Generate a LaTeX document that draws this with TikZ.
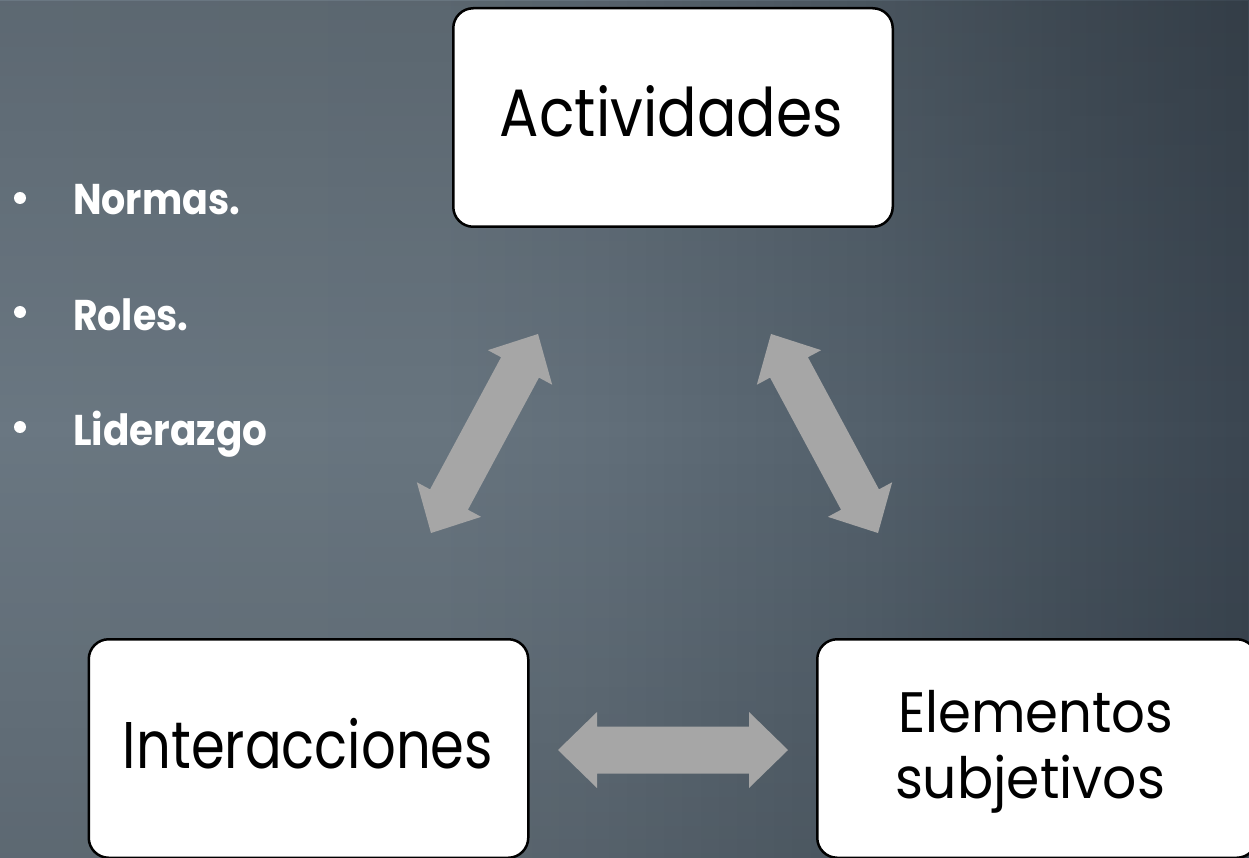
\documentclass[tikz,border=0pt]{standalone}
\usepackage{fontspec}
\setmainfont{Poppins}
\usetikzlibrary{fadings}
\definecolor{bgA}{HTML}{6A7782}
\definecolor{bgB}{HTML}{68757F}
\definecolor{bgC}{HTML}{626F7A}
\definecolor{bgD}{HTML}{53606B}
\definecolor{bgE}{HTML}{46525D}
\definecolor{bgF}{HTML}{3B4651}
\definecolor{arrowgray}{HTML}{A6A6A6}
\pgfdeclarehorizontalshading{bgshade}{100bp}{color(0bp)=(bgA); color(25bp)=(bgA); color(42.5bp)=(bgB); color(49bp)=(bgC); color(60bp)=(bgD); color(67.5bp)=(bgE); color(75bp)=(bgF); color(100bp)=(bgF)}
\tikzfading[name=vvignette, top color=transparent!0, bottom color=transparent!0, middle color=transparent!100]
% double block arrow: #1 centre coordinate, #2 angle, #3 length, #4 head length, #5 head half width, #6 shaft half width
\newcommand{\blockarrow}[6]{%
  \fill[arrowgray, shift={(#1)}, rotate=#2]
    (-#3/2,0) -- (-#3/2+#4,#5) -- (-#3/2+#4,#6) -- (#3/2-#4,#6) -- (#3/2-#4,#5) -- (#3/2,0)
    -- (#3/2-#4,-#5) -- (#3/2-#4,-#6) -- (-#3/2+#4,-#6) -- (-#3/2+#4,-#5) -- cycle;}
\begin{document}
\begin{tikzpicture}[x=1pt,y=-1pt,
  box/.style={draw=black, line width=2.5pt, fill=white, rounded corners=20pt,
    minimum width=439.5pt, minimum height=218.5pt, inner sep=0pt},
  boxtext/.style={inner sep=0pt, anchor=base, text=black},
  itemtext/.style={inner sep=0pt, anchor=base west, text=white},
  bulletdot/.style={circle, fill=white, minimum size=12pt, inner sep=0pt}]
\useasboundingbox (0,0) rectangle (1249,858);
\clip (0,0) rectangle (1249,858);
% background
\shade[shading=bgshade] (0,0) rectangle (1249,858);
\fill[black, fill opacity=0.12, path fading=vvignette, fit fading=true] (0,0) rectangle (1249,858);

% boxes
\node[box] (act) at (673,117.5) {};
\node[box] (inter) at (308.5,748.5) {};
\node[box] (elem) at (1037,748.5) {};

% box texts
\node[boxtext] (actT) at (671.5,137) {\resizebox{343pt}{\height}{\fontsize{67}{80}\selectfont Actividades}};
\node[boxtext] (interT) at (308,768) {\resizebox{370pt}{\height}{\fontsize{66}{80}\selectfont Interacciones}};
\node[boxtext] (elemT) at (1035.5,732) {\resizebox{275pt}{\height}{\fontsize{57}{66}\selectfont Elementos}};
\node[boxtext] (elemTb) at (1030,798) {\resizebox{270pt}{\height}{\fontsize{57}{66}\selectfont subjetivos}};

% bullet list
\node[bulletdot] (b1) at (20,198) {};
\node[bulletdot] (b2) at (20,312) {};
\node[bulletdot] (b3) at (20,427) {};
\node[itemtext] (t1) at (73,215) {\resizebox{167pt}{\height}{\bfseries\fontsize{43}{50}\selectfont Normas.}};
\node[itemtext] (t2) at (73,330) {\resizebox{115pt}{\height}{\bfseries\fontsize{43}{50}\selectfont Roles.}};
\node[itemtext] (t3) at (73,445) {\resizebox{194pt}{\height}{\bfseries\fontsize{43}{50}\selectfont Liderazgo}};

% block arrows
\coordinate (arrAI) at (484.5,433.5);
\coordinate (arrAE) at (824.5,433.5);
\coordinate (arrIE) at (673,750);
\blockarrow{arrAI}{61.73}{226}{38}{36.5}{21.5}
\blockarrow{arrAE}{118.27}{226}{38}{36.5}{21.5}
\blockarrow{arrIE}{0}{230}{39}{38}{23.5}
\end{tikzpicture}
\end{document}
